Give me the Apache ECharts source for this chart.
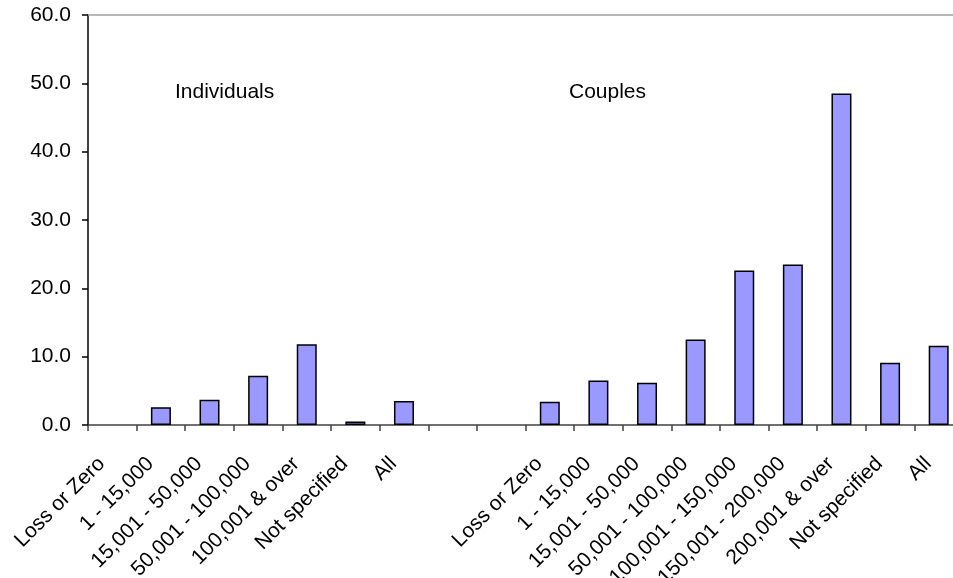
<!DOCTYPE html>
<html>
<head>
<meta charset="utf-8">
<style>
  html, body { margin: 0; padding: 0; background: #ffffff; }
  #chart { width: 953px; height: 578px; }
</style>
<script src="https://cdn.jsdelivr.net/npm/echarts@6/dist/echarts.min.js"></script>
</head>
<body>
<div id="chart"></div>
<script>
// Income bands and rates (%) for individuals and couples
const individualBands = ['Loss or Zero', '1 - 15,000', '15,001 - 50,000', '50,001 - 100,000', '100,001 & over', 'Not specified', 'All'];
const individualRates = [null, 2.6, 3.7, 7.2, 11.8, 0.5, 3.5];

const coupleBands = ['Loss or Zero', '1 - 15,000', '15,001 - 50,000', '50,001 - 100,000', '100,001 - 150,000', '150,001 - 200,000', '200,001 & over', 'Not specified', 'All'];
const coupleRates = [3.4, 6.5, 6.2, 12.5, 22.6, 23.5, 48.5, 9.1, 11.6];

// two empty slots separate the groups
const gapSlots = ['', ''];
const gapValues = [null, null];

const groupTitles = ['Individuals', 'Couples'];

const yMin = 0, yMax = 60, yStep = 10;

const categories = individualBands.concat(gapSlots, coupleBands);
const values = individualRates.concat(gapValues, coupleRates);

const FONT = '"Liberation Sans", Arial, sans-serif';
const FONT_SIZE = 21;

const chart = echarts.init(document.getElementById('chart'), null, { renderer: 'canvas' });

chart.setOption({
  animation: false,
  backgroundColor: '#ffffff',
  grid: { left: 88, top: 15, width: 875, height: 410, containLabel: false, outerBoundsMode: 'none' },
  xAxis: [
    {
      type: 'category',
      data: categories,
      boundaryGap: true,
      axisLine: { show: true, lineStyle: { color: '#404040', width: 1.5 } },
      axisTick: { show: true, alignWithLabel: false, length: 6, lineStyle: { color: '#404040', width: 1.5 } },
      axisLabel: {
        interval: 0,
        rotate: 45,
        margin: 25,
        padding: [0, 15, 0, 0],
        color: '#000000',
        fontFamily: FONT,
        fontSize: FONT_SIZE,
        hideOverlap: false
      },
      splitLine: { show: false }
    },
    {
      type: 'category',
      position: 'top',
      data: categories,
      axisLine: { show: true, lineStyle: { color: '#a0a0a0', width: 1.5 } },
      axisTick: { show: false },
      axisLabel: { show: false },
      splitLine: { show: false }
    }
  ],
  yAxis: {
    type: 'value',
    min: yMin,
    max: yMax,
    interval: yStep,
    axisLine: { show: true, lineStyle: { color: '#000000', width: 1.5 } },
    axisTick: { show: true, length: 6, lineStyle: { color: '#000000', width: 1.5 } },
    axisLabel: {
      margin: 17,
      color: '#000000',
      fontFamily: FONT,
      fontSize: FONT_SIZE,
      formatter: v => v.toFixed(1)
    },
    splitLine: { show: false }
  },
  series: [
    {
      type: 'bar',
      xAxisIndex: 0,
      data: values,
      barWidth: 20,
      itemStyle: { color: '#9999ff', borderColor: '#000000', borderWidth: 1.5 }
    }
  ],
  graphic: [
    {
      type: 'text',
      left: 175,
      top: 82,
      style: { text: groupTitles[0], fill: '#000000', font: FONT_SIZE + 'px ' + FONT }
    },
    {
      type: 'text',
      left: 569,
      top: 82,
      style: { text: groupTitles[1], fill: '#000000', font: FONT_SIZE + 'px ' + FONT }
    }
  ]
});
</script>
</body>
</html>
